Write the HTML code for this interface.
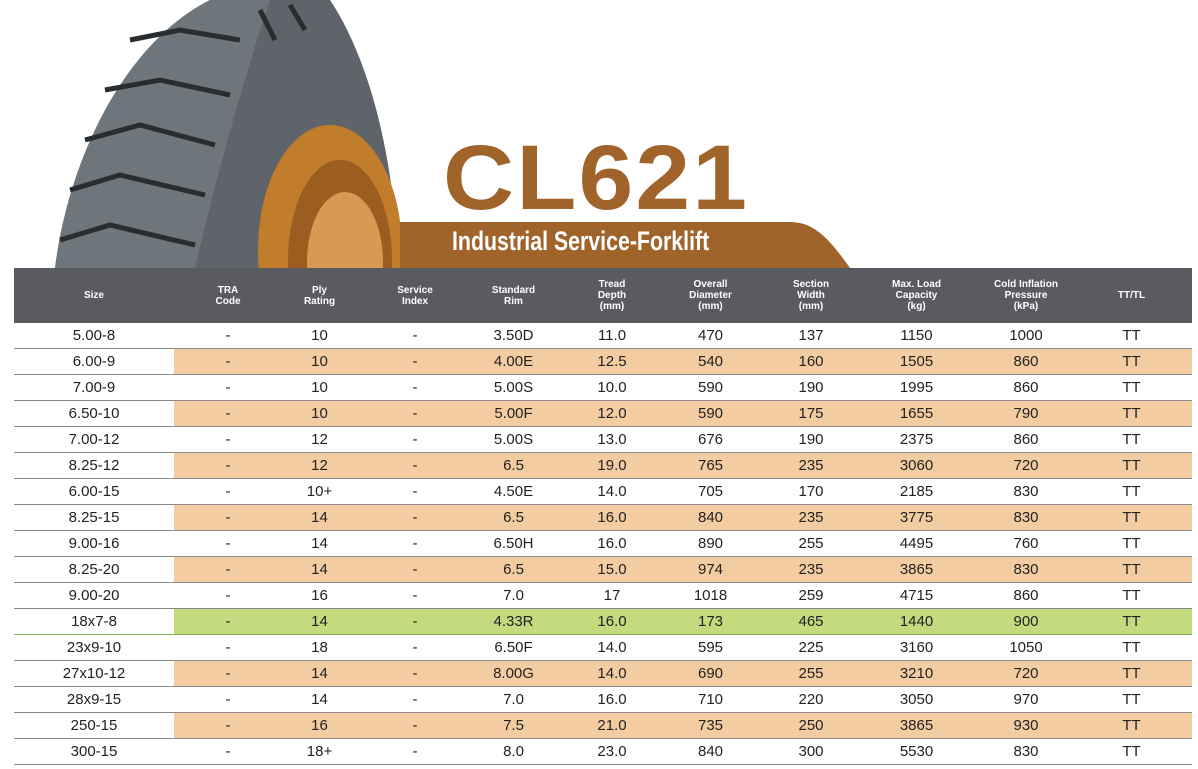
<!DOCTYPE html>
<html><head><meta charset="utf-8"><style>
body{margin:0;width:1198px;height:769px;background:#fff;position:relative;overflow:hidden;font-family:"Liberation Sans",sans-serif}
#title{position:absolute;left:443px;top:128px;font-size:92px;font-weight:bold;color:#a0632a;letter-spacing:2px;font-family:"Liberation Sans",sans-serif;transform:scaleX(1.07);transform-origin:left top;line-height:100px}
#sub{position:absolute;left:452px;top:226px;font-size:27px;font-weight:bold;color:#fff;transform:scaleX(0.79);transform-origin:left top;white-space:nowrap;font-family:"Liberation Sans Narrow","Liberation Sans",sans-serif}
table{position:absolute;left:14px;top:268px;width:1178px;border-collapse:collapse;table-layout:fixed}
th{background:#5a5b60;color:#fff;font-size:10px;font-weight:bold;height:55px;padding:0;line-height:11px;font-family:"Liberation Sans Narrow","Liberation Sans",sans-serif}
td{height:25px;padding:0;text-align:center;font-size:15px;color:#222;border-bottom:1.5px solid #8a8a8a;font-family:"Liberation Sans Narrow","Liberation Sans",sans-serif}
td:nth-child(2),th:nth-child(2){padding-left:9px}
td:nth-child(11),th:nth-child(11){padding-right:10px}
tr.o td{background:#f4cca2}
tr.o td:first-child{background:#fff}
tr.g td{background:#c3da7e;border-top:1.5px solid #7fb24a;border-bottom:1.5px solid #7fb24a}
tr.g td:first-child{background:#fff;border-top:none}
</style></head><body>
<svg width="1198" height="268" style="position:absolute;left:0;top:0">
<defs><clipPath id="c"><rect x="0" y="0" width="1198" height="268"/></clipPath></defs>
<g clip-path="url(#c)">
<path d="M55 268 C70 150 130 40 210 0 L330 0 C370 60 395 160 398 268 Z" fill="#5e6469"/>
<path d="M210 0 L270 0 C250 60 220 160 195 268 L55 268 C70 150 130 40 210 0Z" fill="#6f767b"/>
<ellipse cx="330" cy="250" rx="72" ry="125" fill="#c17d2c"/>
<ellipse cx="340" cy="260" rx="52" ry="100" fill="#9b5d20"/>
<ellipse cx="345" cy="262" rx="38" ry="70" fill="#d79a55"/>
<g stroke="#2a2d30" stroke-width="5" fill="none">
<path d="M130 40 L180 30 L240 40"/><path d="M105 90 L160 80 L230 95"/><path d="M85 140 L140 125 L215 145"/><path d="M70 190 L120 175 L205 195"/><path d="M60 240 L110 225 L195 245"/>
<path d="M260 10 L275 40"/><path d="M290 5 L305 30"/>
</g>
<path d="M400 222 L790 222 C815 222 830 240 850 268 L400 268Z" fill="#a0632a"/>
</g>
</svg>
<div id="title">CL621</div>
<div id="sub">Industrial Service-Forklift</div>
<table>
<colgroup><col style="width:160px"><col style="width:99px"><col style="width:93px"><col style="width:98px"><col style="width:99px"><col style="width:98px"><col style="width:99px"><col style="width:102px"><col style="width:109px"><col style="width:110px"><col style="width:111px"></colgroup>
<tr><th>Size</th><th>TRA<br>Code</th><th>Ply<br>Rating</th><th>Service<br>Index</th><th>Standard<br>Rim</th><th>Tread<br>Depth<br>(mm)</th><th>Overall<br>Diameter<br>(mm)</th><th>Section<br>Width<br>(mm)</th><th>Max. Load<br>Capacity<br>(kg)</th><th>Cold Inflation<br>Pressure<br>(kPa)</th><th>TT/TL</th></tr>
<tr><td>5.00-8</td><td>-</td><td>10</td><td>-</td><td>3.50D</td><td>11.0</td><td>470</td><td>137</td><td>1150</td><td>1000</td><td>TT</td></tr>
<tr class="o"><td>6.00-9</td><td>-</td><td>10</td><td>-</td><td>4.00E</td><td>12.5</td><td>540</td><td>160</td><td>1505</td><td>860</td><td>TT</td></tr>
<tr><td>7.00-9</td><td>-</td><td>10</td><td>-</td><td>5.00S</td><td>10.0</td><td>590</td><td>190</td><td>1995</td><td>860</td><td>TT</td></tr>
<tr class="o"><td>6.50-10</td><td>-</td><td>10</td><td>-</td><td>5.00F</td><td>12.0</td><td>590</td><td>175</td><td>1655</td><td>790</td><td>TT</td></tr>
<tr><td>7.00-12</td><td>-</td><td>12</td><td>-</td><td>5.00S</td><td>13.0</td><td>676</td><td>190</td><td>2375</td><td>860</td><td>TT</td></tr>
<tr class="o"><td>8.25-12</td><td>-</td><td>12</td><td>-</td><td>6.5</td><td>19.0</td><td>765</td><td>235</td><td>3060</td><td>720</td><td>TT</td></tr>
<tr><td>6.00-15</td><td>-</td><td>10+</td><td>-</td><td>4.50E</td><td>14.0</td><td>705</td><td>170</td><td>2185</td><td>830</td><td>TT</td></tr>
<tr class="o"><td>8.25-15</td><td>-</td><td>14</td><td>-</td><td>6.5</td><td>16.0</td><td>840</td><td>235</td><td>3775</td><td>830</td><td>TT</td></tr>
<tr><td>9.00-16</td><td>-</td><td>14</td><td>-</td><td>6.50H</td><td>16.0</td><td>890</td><td>255</td><td>4495</td><td>760</td><td>TT</td></tr>
<tr class="o"><td>8.25-20</td><td>-</td><td>14</td><td>-</td><td>6.5</td><td>15.0</td><td>974</td><td>235</td><td>3865</td><td>830</td><td>TT</td></tr>
<tr><td>9.00-20</td><td>-</td><td>16</td><td>-</td><td>7.0</td><td>17</td><td>1018</td><td>259</td><td>4715</td><td>860</td><td>TT</td></tr>
<tr class="g"><td>18x7-8</td><td>-</td><td>14</td><td>-</td><td>4.33R</td><td>16.0</td><td>173</td><td>465</td><td>1440</td><td>900</td><td>TT</td></tr>
<tr><td>23x9-10</td><td>-</td><td>18</td><td>-</td><td>6.50F</td><td>14.0</td><td>595</td><td>225</td><td>3160</td><td>1050</td><td>TT</td></tr>
<tr class="o"><td>27x10-12</td><td>-</td><td>14</td><td>-</td><td>8.00G</td><td>14.0</td><td>690</td><td>255</td><td>3210</td><td>720</td><td>TT</td></tr>
<tr><td>28x9-15</td><td>-</td><td>14</td><td>-</td><td>7.0</td><td>16.0</td><td>710</td><td>220</td><td>3050</td><td>970</td><td>TT</td></tr>
<tr class="o"><td>250-15</td><td>-</td><td>16</td><td>-</td><td>7.5</td><td>21.0</td><td>735</td><td>250</td><td>3865</td><td>930</td><td>TT</td></tr>
<tr><td>300-15</td><td>-</td><td>18+</td><td>-</td><td>8.0</td><td>23.0</td><td>840</td><td>300</td><td>5530</td><td>830</td><td>TT</td></tr>
</table>
</body></html>
